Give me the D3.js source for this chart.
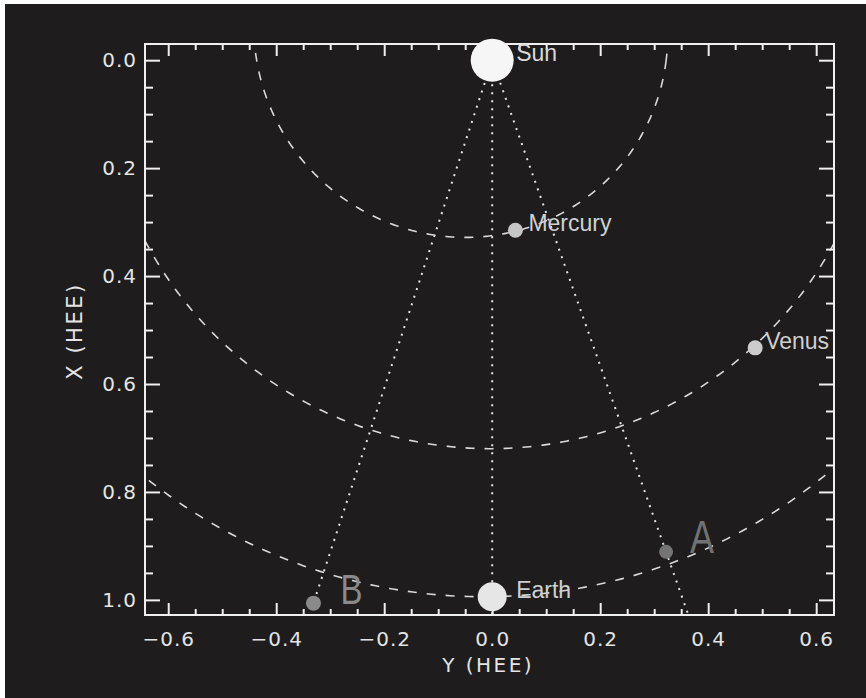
<!DOCTYPE html>
<html>
<head>
<meta charset="utf-8">
<script src="https://cdn.jsdelivr.net/npm/d3@7"></script>
<style>
  html, body { margin: 0; padding: 0; background: #ffffff; }
  svg { display: block; }
</style>
</head>
<body>
<div id="chart"></div>
<script>
// bodies: position in HEE (Y horizontal, X vertical downwards), AU
const bodyNames = ["Sun", "Mercury", "Venus", "Earth", "A", "B"];
const bodyY = [0, 0.043, 0.487, 0, 0.322, -0.331];
const bodyX = [0, 0.315, 0.533, 0.994, 0.911, 1.006];

// orbits drawn as Sun-focus ellipses
const orbitNames = ["Mercury", "Venus", "Earth"];
const orbitA = [0.387, 0.723, 1.0];
const orbitE = [0.2056, 0.0068, 0.0167];
const orbitPeri = [43, 40, 20]; // degrees, from +Y towards +X

// lines of sight from the Sun
const sightTargets = ["Earth", "A", "B"];

const xTicks = [-0.6, -0.4, -0.2, 0.0, 0.2, 0.4, 0.6];
const yTicks = [0.0, 0.2, 0.4, 0.6, 0.8, 1.0];
const xMinor = [-0.55, -0.5, -0.45, -0.35, -0.3, -0.25, -0.15, -0.1, -0.05,
                0.05, 0.1, 0.15, 0.25, 0.3, 0.35, 0.45, 0.5, 0.55];
const yMinor = [0.05, 0.1, 0.15, 0.25, 0.3, 0.35, 0.45, 0.5, 0.55,
                0.65, 0.7, 0.75, 0.85, 0.9, 0.95];

// styles
const bodyStyle = {
  Sun:     { r: 21.5, fill: "#f6f6f6", dx: 24, size: 23, label: "#d8d8d8" },
  Mercury: { r: 7.5,  fill: "#c6c6c6", dx: 13, size: 23, label: "#d0d0d0" },
  Venus:   { r: 7.5,  fill: "#cccccc", dx: 10, size: 23, label: "#d0d0d0" },
  Earth:   { r: 14.5, fill: "#e6e6e6", dx: 24, size: 23, label: "#cfcfcf" },
  A:       { r: 7,    fill: "#747474", dx: 24, size: 46, label: "#727272", w: 24 },
  B:       { r: 7.5,  fill: "#8a8a8a", dx: 27, size: 42, label: "#8a8a8a", w: 22 }
};

const width = 866, height = 698;
const margin = { top: 44, right: 32, bottom: 83, left: 145 };
const iw = width - margin.left - margin.right;
const ih = height - margin.top - margin.bottom;

const x = d3.scaleLinear().domain([-0.643, 0.633]).range([0, iw]);
const y = d3.scaleLinear().domain([-0.03, 1.028]).range([0, ih]);

const svg = d3.select("#chart").append("svg")
  .attr("width", width)
  .attr("height", height);

svg.append("rect")
  .attr("x", 5).attr("y", 4)
  .attr("width", width - 5).attr("height", height - 4)
  .attr("fill", "#1e1c1d");

svg.append("clipPath").attr("id", "plotclip")
  .append("rect").attr("width", iw).attr("height", ih);

const g = svg.append("g")
  .attr("transform", `translate(${margin.left},${margin.top})`);

const plot = g.append("g").attr("clip-path", "url(#plotclip)");

// lines of sight
const sun = { Y: bodyY[0], X: bodyX[0] };
sightTargets.forEach(name => {
  const i = bodyNames.indexOf(name);
  const yEnd = y.domain()[1];
  const t = (yEnd - sun.X) / (bodyX[i] - sun.X);
  plot.append("line")
    .attr("x1", x(sun.Y)).attr("y1", y(sun.X))
    .attr("x2", x(sun.Y + t * (bodyY[i] - sun.Y))).attr("y2", y(yEnd))
    .attr("stroke", "#e6e6e6")
    .attr("stroke-width", 2)
    .attr("stroke-dasharray", "2,6");
});

// orbits
const angles = d3.range(0, 360.5, 0.5);
const line = d3.line().x(d => x(d[0])).y(d => y(d[1]));
orbitNames.forEach((name, k) => {
  const a = orbitA[k], e = orbitE[k], w = orbitPeri[k] * Math.PI / 180;
  const pts = angles.map(deg => {
    const phi = deg * Math.PI / 180;
    const r = a * (1 - e * e) / (1 + e * Math.cos(phi - w));
    return [r * Math.cos(phi), r * Math.sin(phi)];
  });
  plot.append("path")
    .attr("d", line(pts))
    .attr("fill", "none")
    .attr("stroke", "#dadada")
    .attr("stroke-width", 1.6)
    .attr("stroke-dasharray", "9,10");
});

// axes (IDL style box, ticks inward on all sides)
const fmt = d3.format(".1f");
function styleAxis(sel) {
  sel.select(".domain").remove();
  sel.selectAll(".tick line").attr("stroke", "#f0f0f0").attr("stroke-width", 2);
  sel.selectAll("text")
    .attr("fill", "#e4e4e4")
    .attr("font-family", "DejaVu Sans")
    .attr("font-size", 20)
    .attr("letter-spacing", 1);
}

g.append("g").attr("transform", `translate(0,${ih})`)
  .call(d3.axisBottom(x).tickValues(xTicks).tickSize(-12).tickPadding(17).tickFormat(fmt))
  .call(styleAxis);
g.append("g").attr("transform", `translate(0,${ih})`)
  .call(d3.axisBottom(x).tickValues(xMinor).tickSize(-6).tickFormat(""))
  .call(styleAxis);
g.append("g")
  .call(d3.axisTop(x).tickValues(xTicks).tickSize(-12).tickFormat(""))
  .call(styleAxis);
g.append("g")
  .call(d3.axisTop(x).tickValues(xMinor).tickSize(-6).tickFormat(""))
  .call(styleAxis);
g.append("g")
  .call(d3.axisLeft(y).tickValues(yTicks).tickSize(-15).tickPadding(8).tickFormat(fmt))
  .call(styleAxis);
g.append("g")
  .call(d3.axisLeft(y).tickValues(yMinor).tickSize(-8).tickFormat(""))
  .call(styleAxis);
g.append("g").attr("transform", `translate(${iw},0)`)
  .call(d3.axisRight(y).tickValues(yTicks).tickSize(-15).tickFormat(""))
  .call(styleAxis);
g.append("g").attr("transform", `translate(${iw},0)`)
  .call(d3.axisRight(y).tickValues(yMinor).tickSize(-8).tickFormat(""))
  .call(styleAxis);

g.append("rect")
  .attr("width", iw).attr("height", ih)
  .attr("fill", "none")
  .attr("stroke", "#f0f0f0")
  .attr("stroke-width", 2);

// axis titles
g.append("text")
  .attr("x", x(-0.0075)).attr("y", ih + 57)
  .attr("text-anchor", "middle")
  .attr("fill", "#e4e4e4")
  .attr("font-family", "DejaVu Sans")
  .attr("font-size", 20)
  .attr("letter-spacing", 2.5)
  .text("Y (HEE)");

g.append("text")
  .attr("transform", `translate(${82 - margin.left},${331 - margin.top}) rotate(-90)`)
  .attr("text-anchor", "middle")
  .attr("fill", "#e4e4e4")
  .attr("font-family", "DejaVu Sans")
  .attr("font-size", 21)
  .attr("letter-spacing", 2.5)
  .text("X (HEE)");

// bodies
const bodies = bodyNames.map((n, i) => ({ name: n, Y: bodyY[i], X: bodyX[i] }));

g.selectAll("circle.body")
  .data(bodies)
  .join("circle")
  .attr("class", "body")
  .attr("cx", d => x(d.Y))
  .attr("cy", d => y(d.X))
  .attr("r", d => bodyStyle[d.name].r)
  .attr("fill", d => bodyStyle[d.name].fill);

g.selectAll("text.blabel")
  .data(bodies)
  .join("text")
  .attr("class", "blabel")
  .attr("x", d => x(d.Y) + bodyStyle[d.name].dx)
  .attr("y", d => y(d.X) + 1)
  .attr("fill", d => bodyStyle[d.name].label)
  .attr("font-family", "Liberation Sans")
  .attr("font-size", d => bodyStyle[d.name].size)
  .each(function (d) {
    const s = bodyStyle[d.name];
    if (s.w) d3.select(this).attr("textLength", s.w).attr("lengthAdjust", "spacingAndGlyphs");
  })
  .text(d => d.name);
</script>
</body>
</html>
